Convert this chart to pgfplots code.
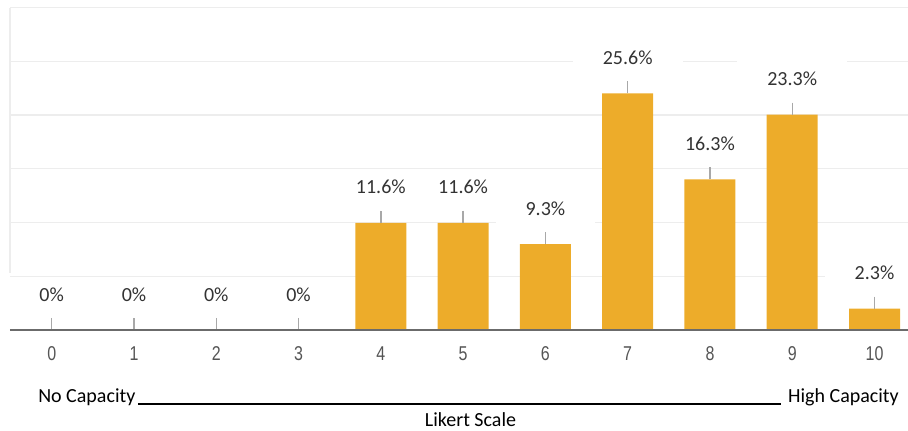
\documentclass[border=0pt]{standalone}
\usepackage{pgfplots}
\pgfplotsset{compat=1.18}
\usepackage{pgfplotstable}
\usepackage{fontspec}
\setmainfont{Carlito}
\newfontfamily\tickfont{Liberation Sans}[FakeStretch=0.8]
\usetikzlibrary{calc}
\definecolor{barc}{HTML}{EDAC2A}
\definecolor{gridc}{HTML}{EDEDED}
\definecolor{basec}{HTML}{6B6B6B}
\definecolor{tickc}{HTML}{A8A8A8}
\definecolor{labc}{HTML}{333333}
\definecolor{xlabc}{HTML}{555555}

\pgfplotstableread{
x y lab
0 0 0
1 0 0
2 0 0
3 0 0
4 11.6 11.6
5 11.6 11.6
6 9.3 9.3
7 25.6 25.6
8 16.3 16.3
9 23.3 23.3
10 2.3 2.3
}\data

\begin{document}
\begin{tikzpicture}
\begin{axis}[name=ax, scale only axis, width=673.5pt, height=241.875pt,
  xmin=-0.507, xmax=10.407, ymin=0, ymax=34.884,
  axis line style={draw=none}, tick style={draw=none},
  clip=false,
  /pgf/number format/assume math mode=true,
  xtick={0,...,10},
  ytick={5.814,11.628,17.442,23.256,29.07,34.884}, yticklabels={},
  ymajorgrids, grid style={gridc, line width=0.9pt},
  major tick length=0pt,
  xticklabel style={font=\tickfont\fontsize{15}{15}\selectfont, text=xlabc,
    anchor=center, text height=0.72em, text depth=0pt, inner sep=0pt, yshift=-19.1pt},
  bar width=38.25pt,
]
\addplot[ybar, bar shift=0pt, draw=none, fill=none,
  point meta=explicit symbolic,
  nodes near coords={\pgfplotspointmeta\%},
  every node near coord/.style={anchor=center, yshift=24.75pt, fill=white,
    inner xsep=22.5pt, inner ysep=12pt, text height=0.63em, text depth=0pt,
    text=labc, font=\fontsize{15}{15}\selectfont}]
  table[x=x, y=y, meta=lab]{\data};
\addplot[ybar, bar shift=0pt, draw=none, fill=barc,
  error bars/.cd, y dir=plus, y fixed=1.3, error mark=none,
  error bar style={tickc, line width=1.1pt}]
  table[x=x, y=y]{\data};
\end{axis}
\begin{scope}[shift={($(ax.south west)+(-7.5pt,247.5pt)$)}, x=0.75pt, y=-0.75pt]
\draw[basec, line width=1.5pt] (10,330)--(908,330);
\draw[gridc, line width=0.9pt] (10,7.5)--(10,273);
\node[anchor=base west, inner sep=0pt, font=\fontsize{15}{18}\selectfont] at (38,402) {No Capacity};
\draw[black, line width=0.8pt] (138,404)--(781,404);
\node[anchor=base east, inner sep=0pt, font=\fontsize{15}{18}\selectfont] at (899,402) {High Capacity};
\node[anchor=base, inner sep=0pt, font=\fontsize{15}{18}\selectfont] at (470.5,426) {Likert Scale};
\pgfresetboundingbox
\path[use as bounding box] (0,0) rectangle (908,430);
\end{scope}
\end{tikzpicture}
\end{document}
